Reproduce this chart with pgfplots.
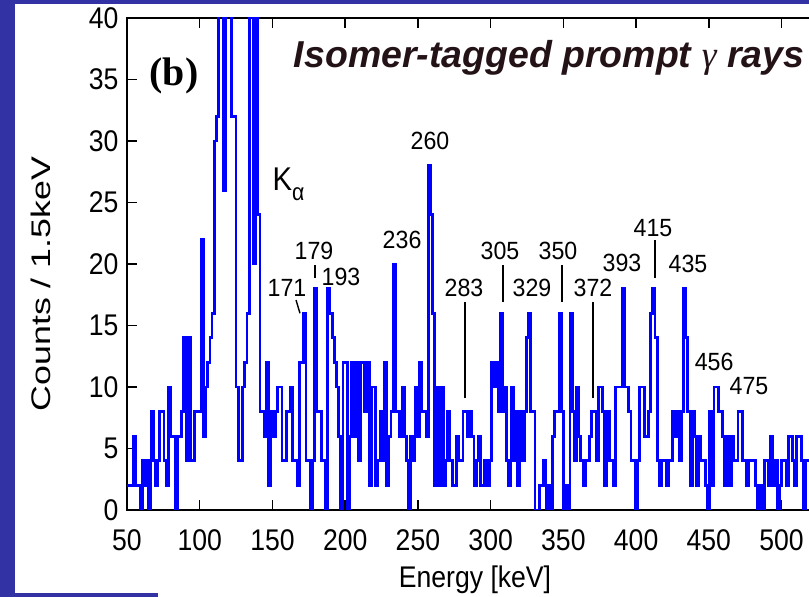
\documentclass[border=0pt]{standalone}
\usepackage{fontspec}
\setmainfont{Liberation Sans}
\newfontfamily\serifb{Liberation Serif}
\newfontfamily\chartfont{Liberation Sans}[FakeStretch=0.89]
\newfontfamily\peakfont{Liberation Sans}[FakeStretch=0.93]
\newfontfamily\ylabfont{Liberation Sans}[FakeStretch=1.33]
\usepackage{pgfplots}
\usepackage{pgfplotstable}
\pgfplotsset{compat=1.18}
\definecolor{slideblue}{RGB}{50,50,165}
\definecolor{titlecol}{RGB}{35,18,22}

% counts per 1.5 keV bin, first bin starts at 50 keV
\pgfplotstableread[row sep=\\]{c\\
2\\2\\2\\6\\2\\2\\0\\4\\2\\4\\
0\\8\\4\\2\\4\\8\\8\\4\\2\\10\\
6\\6\\0\\6\\6\\8\\14\\4\\14\\4\\
4\\8\\8\\8\\22\\6\\10\\12\\14\\16\\
30\\32\\60\\60\\26\\60\\60\\60\\32\\32\\
10\\4\\4\\10\\12\\16\\60\\60\\20\\60\\
24\\8\\8\\6\\12\\2\\8\\6\\8\\10\\
10\\4\\4\\8\\8\\10\\4\\4\\2\\12\\
12\\16\\4\\4\\0\\4\\18\\8\\8\\4\\
4\\0\\18\\16\\14\\12\\10\\6\\0\\12\\
12\\0\\6\\12\\6\\12\\4\\12\\12\\8\\
12\\2\\10\\10\\2\\4\\8\\4\\12\\2\\
6\\8\\20\\8\\8\\6\\10\\6\\4\\0\\
6\\4\\10\\6\\12\\8\\8\\6\\28\\24\\
16\\2\\10\\2\\10\\2\\4\\8\\4\\2\\
2\\6\\4\\4\\8\\8\\6\\8\\6\\2\\
4\\6\\2\\2\\4\\2\\4\\12\\10\\12\\
8\\16\\8\\10\\4\\2\\10\\4\\8\\2\\
8\\4\\8\\14\\16\\8\\8\\0\\0\\2\\
2\\4\\0\\2\\0\\6\\8\\8\\16\\8\\
0\\2\\0\\16\\8\\4\\10\\6\\4\\2\\
4\\4\\6\\8\\8\\4\\10\\10\\8\\2\\
8\\4\\4\\2\\10\\10\\10\\18\\10\\10\\
8\\4\\4\\0\\4\\10\\10\\6\\6\\8\\
16\\18\\14\\4\\2\\4\\4\\2\\4\\4\\
8\\6\\8\\4\\8\\18\\14\\8\\2\\8\\
6\\2\\6\\4\\4\\2\\0\\8\\2\\10\\
10\\8\\8\\6\\2\\6\\2\\6\\4\\4\\
8\\8\\4\\4\\2\\4\\4\\4\\2\\0\\
2\\0\\4\\4\\2\\6\\2\\4\\0\\2\\
4\\4\\2\\6\\6\\4\\2\\6\\6\\4\\
0\\4\\4\\2\\4\\
}\spec

\begin{document}
\begin{tikzpicture}
\useasboundingbox (0,0) rectangle (809bp,597bp);
\clip (0,0) rectangle (809bp,597bp);
\fill[slideblue] (0,0) rectangle (809bp,597bp);
\fill[white] (15bp,0) rectangle (809bp,593bp);
\fill[slideblue] (0,0) rectangle (158bp,4bp);
\begin{axis}[
  at={(127bp,87bp)}, anchor=south west,
  scale only axis, width=727.3bp, height=492bp,
  xmin=50, xmax=550, ymin=0, ymax=40,
  xtick={50,100,...,550}, ytick={0,5,...,40},
  minor tick num=0,
  tick align=inside,
  major tick length=10bp,
  axis line style={line width=1.8bp},
  every tick/.style={black, line width=1.5bp},
  /pgf/number format/assume math mode=true,
  ticklabel style={font=\chartfont\fontsize{30}{32}\selectfont},
  xticklabel style={yshift=-16bp},
  yticklabel style={xshift=-5bp},
  xlabel={Energy [keV]},
  ylabel={Counts / 1.5keV},
  xlabel style={font=\chartfont\fontsize{30}{32}\selectfont, at={(axis description cs:0.4785,-0.1585)}, anchor=base},
  ylabel style={font=\ylabfont\fontsize{27}{30}\selectfont, at={(axis description cs:-0.1045,0.459)}, anchor=base},
  clip=true,
]
\addplot[const plot, draw=blue, line width=2.8bp] table[x expr={50+1.5*\coordindex}, y=c] {\spec};

\begin{scope}[every node/.style={anchor=base, font=\peakfont\fontsize{25}{27}\selectfont, inner sep=0pt}]
\node at (axis cs:160,17.32) {171};
\node at (axis cs:178.6,20.33) {179};
\node at (axis cs:197.1,18.29) {193};
\node at (axis cs:239.1,21.22) {236};
\node at (axis cs:258.3,29.27) {260};
\node at (axis cs:281.7,17.32) {283};
\node at (axis cs:306.4,20.33) {305};
\node at (axis cs:328.4,17.32) {329};
\node at (axis cs:346.3,20.33) {350};
\node at (axis cs:370.4,17.32) {372};
\node at (axis cs:390.3,19.35) {393};
\node at (axis cs:411.6,22.2) {415};
\node at (axis cs:435.7,19.27) {435};
\node at (axis cs:453.6,11.38) {456};
\node at (axis cs:477.6,9.35) {475};
\end{scope}
\begin{scope}[line width=1.4bp]
\draw (axis cs:166.2,17.07) -- (axis cs:168.9,16.0);
\draw (axis cs:179.25,19.9) -- (axis cs:179.25,18.9);
\draw (axis cs:282.4,16.9) -- (axis cs:282.4,9.1);
\draw (axis cs:308.5,19.9) -- (axis cs:308.5,16.9);
\draw (axis cs:349.1,19.9) -- (axis cs:349.1,16.9);
\draw (axis cs:370.4,16.9) -- (axis cs:370.4,9.1);
\draw (axis cs:413.0,21.95) -- (axis cs:413.0,18.9);
\end{scope}
\node[anchor=base west, inner sep=0pt, font=\chartfont\fontsize{33}{35}\selectfont] at (axis cs:150.0,26.0) {K\raisebox{-0.3em}{\fontsize{24}{26}\selectfont α}};
\end{axis}
\node[anchor=base, inner sep=0pt, font=\fontsize{37.6}{40}\selectfont\bfseries\itshape, text=titlecol] at (549bp,529bp) {Isomer-tagged prompt {\serifb\mdseries\itshape γ} rays};
\node[anchor=base, inner sep=0pt, font=\serifb\bfseries\fontsize{40}{42}\selectfont] at (174bp,511bp) {(b)};
\end{tikzpicture}
\end{document}
